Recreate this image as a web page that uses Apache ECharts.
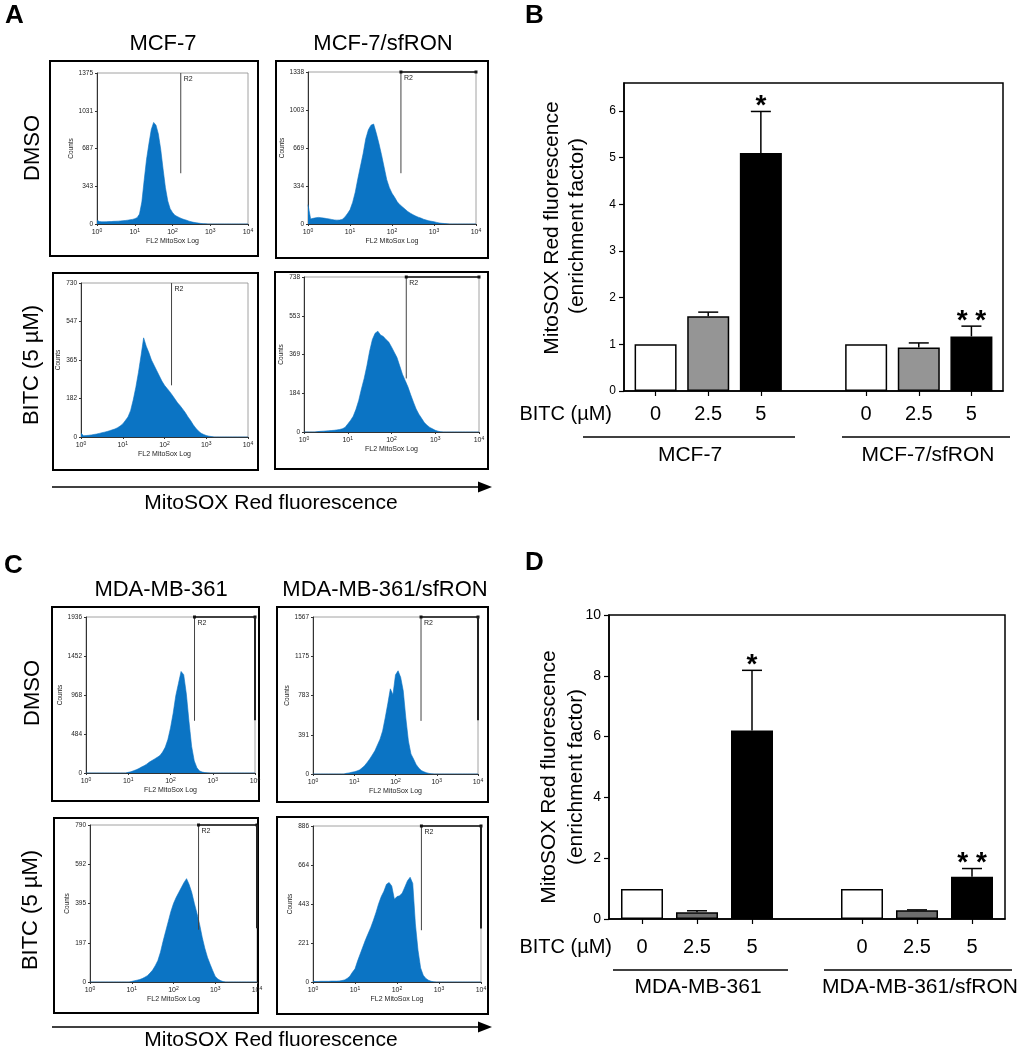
<!DOCTYPE html>
<html><head><meta charset="utf-8">
<script src="https://cdn.jsdelivr.net/npm/echarts@6/dist/echarts.min.js"></script>
<style>html,body{margin:0;padding:0;background:#fff}#c{width:1019px;height:1050px}</style>
</head><body><div id="c"></div>
<script>
// ---------------- DATA ----------------
// Flow-cytometry histograms: counts per channel, 16 channels per decade (10^0 .. 10^4)
const decadeLabels = ['0','1','2','3','4'];
const histTitles = ['MCF-7','MCF-7/sfRON','MDA-MB-361','MDA-MB-361/sfRON'];
const rowLabels = ['DMSO','BITC (5 µM)'];
const histMax = [1375,1338,730,738,1936,1567,790,886];
const histYTicks = [
  ['0','343','687','1031','1375'],
  ['0','334','669','1003','1338'],
  ['0','182','365','547','730'],
  ['0','184','369','553','738'],
  ['0','484','968','1452','1936'],
  ['0','391','783','1175','1567'],
  ['0','197','395','592','790'],
  ['0','221','443','664','886']
];
const histMCF7_DMSO = [35,22,20,20,21,22,22,24,25,26,28,30,32,35,38,42,48,58,90,200,400,590,730,860,925,900,820,680,500,330,210,140,105,80,68,58,48,40,34,26,20,15,12,8,5,3,2,0,0,0,0,0,0,0,0,0,0,0,0,0,0,0,0,0,0];
const histSfRON_DMSO = [170,45,50,55,58,55,52,48,45,40,36,34,35,40,60,90,125,190,280,400,510,620,750,830,870,880,800,710,610,500,390,320,270,235,195,170,150,130,110,95,82,70,60,52,42,35,28,24,20,14,9,6,4,2,0,0,0,0,0,0,0,0,0,0,0];
const histMCF7_BITC = [18,6,7,8,10,12,14,17,20,23,26,30,34,38,44,52,62,78,95,125,175,235,305,385,470,430,400,365,340,315,290,265,245,230,215,198,180,162,148,132,115,95,78,58,42,28,18,12,7,4,2,0,0,0,0,0,0,0,0,0,0,0,0,0,0];
const histSfRON_BITC = [0,0,0,0,0,2,3,4,5,6,7,8,10,12,15,22,38,55,75,108,150,205,255,315,385,440,470,480,462,455,440,428,405,380,355,315,275,245,215,178,143,110,85,65,45,32,22,15,8,4,1,0,0,0,0,0,0,0,0,0,0,0,0,0,0];
const histMDA_DMSO = [0,0,0,0,0,0,0,0,0,0,0,0,0,0,0,0,8,15,28,40,55,74,90,110,135,155,175,195,217,260,320,415,560,740,960,1110,1260,1220,980,640,330,150,65,25,12,5,2,0,0,0,0,0,0,0,0,0,0,0,0,0,0,0,0,0,0];
const histMDAsf_DMSO = [0,0,0,0,0,0,0,0,0,0,0,0,0,7,11,17,22,30,40,60,83,115,150,190,232,290,348,430,560,700,850,790,990,1030,965,830,560,330,200,149,95,60,36,22,13,6,2,0,0,0,0,0,0,0,0,0,0,0,0,0,0,0,0,0,0];
const histMDA_BITC = [0,0,0,0,0,0,0,0,0,0,0,0,0,0,0,0,3,6,9,12,17,24,32,45,60,82,108,150,205,255,305,355,395,425,450,475,500,520,490,450,395,345,290,225,170,125,90,58,28,15,7,2,0,0,0,0,0,0,0,0,0,0,0,0,0];
const histMDAsf_BITC = [4,3,3,4,4,4,4,5,5,5,6,8,12,20,32,55,75,120,160,200,240,275,310,350,395,445,485,515,555,565,545,470,485,490,505,540,575,595,560,330,180,80,38,20,10,4,1,0,0,0,0,0,0,0,0,0,0,0,0,0,0,0,0,0,0];
const histData = [histMCF7_DMSO, histSfRON_DMSO, histMCF7_BITC, histSfRON_BITC, histMDA_DMSO, histMDAsf_DMSO, histMDA_BITC, histMDAsf_BITC];
// R2 gate: channel, lower end (counts), top bar shown, right-end marker lower end (counts, 0 = none)
const gateChannel = [35.5, 35.4, 34.7, 37.4, 41.1, 41.9, 41.6, 41.3];
const gateLow = [462, 447, 245, 255, 648, 530, 263, 294];
const gateTopBar = [false, true, false, true, true, true, true, true];
const gateRightLow = [0, 0, 0, 0, 655, 536, 271, 304];

// Bar charts
const doses = ['0','2.5','5'];
const groupsB = ['MCF-7','MCF-7/sfRON'];
const meanB = [[1.0,1.6,5.1],[1.0,0.93,1.17]];
const errTopB = [[1.0,1.69,5.99],[1.0,1.03,1.39]];
const starsB = [['','','*'],['','','* *']];
const yTicksB = [0,1,2,3,4,5,6];
const groupsD = ['MDA-MB-361','MDA-MB-361/sfRON'];
const meanD = [[0.99,0.22,6.2],[0.99,0.285,1.39]];
const errTopD = [[0.99,0.27,8.18],[0.99,0.3,1.66]];
const starsD = [['','','*'],['','','* *']];
const yTicksD = [0,2,4,6,8,10];

// ---------------- LAYOUT / STYLE ----------------
const FONT = "'Liberation Sans', Arial, sans-serif";
const NARROW = "'Liberation Sans Narrow','Liberation Sans', Arial, sans-serif";
const BLUE = '#0b74c4';
const histGrids = [
  {left:97, top:73, width:151, height:151},
  {left:308, top:72, width:168, height:152},
  {left:81, top:283, width:167, height:154},
  {left:304, top:277, width:175, height:155},
  {left:86, top:617, width:169, height:156},
  {left:313, top:617, width:165, height:157},
  {left:90, top:825, width:167, height:157},
  {left:313, top:826, width:168, height:156}
];
const boxes = [[50,61,208,195],[276,61,212,197],[53,273,205,197],[275,272,213,197],
               [52,607,207,194],[277,607,211,195],[54,818,204,195],[277,817,211,197]];

const grids = [], xAxes = [], yAxes = [], series = [];
histGrids.forEach((g, i) => {
  const M = histMax[i];
  grids.push(Object.assign({show:true, borderColor:'#8a8a8a', borderWidth:0.8, containLabel:false}, g));
  xAxes.push({type:'value', gridIndex:i, min:0, max:64, interval:16,
    axisLine:{show:true, onZero:false, lineStyle:{color:'#333', width:1}},
    axisTick:{show:true, length:2, lineStyle:{color:'#333'}},
    splitLine:{show:false},
    axisLabel:{margin:4, formatter: v => '{b|10}{s|' + decadeLabels[Math.round(v/16)] + '}',
      rich:{b:{fontSize:7, fontFamily:NARROW, color:'#222'}, s:{fontSize:5, fontFamily:NARROW, color:'#222', padding:[0,0,4,0]}}},
    name:'FL2 MitoSox Log', nameLocation:'middle', nameGap:14,
    nameTextStyle:{fontSize:7, fontFamily:NARROW, color:'#222'}});
  yAxes.push({type:'value', gridIndex:i, min:0, max:M, interval:M/4,
    axisLine:{show:true, onZero:false, lineStyle:{color:'#333', width:1}},
    axisTick:{show:true, length:2, lineStyle:{color:'#333'}},
    splitLine:{show:false},
    axisLabel:{margin:4, fontSize:6.5, fontFamily:NARROW, color:'#222',
      formatter: v => histYTicks[i][Math.round(v/(M/4))]},
    name:'Counts', nameLocation:'middle', nameGap:19,
    nameTextStyle:{fontSize:6.5, fontFamily:NARROW, color:'#222'}});
  series.push({type:'line', xAxisIndex:i, yAxisIndex:i, symbol:'none', silent:true,
    lineStyle:{color:BLUE, width:0.6}, areaStyle:{color:BLUE, opacity:1},
    data: histData[i].map((c,k) => [k,c]), z:2});
  series.push({type:'custom', xAxisIndex:i, yAxisIndex:i, silent:true, z:5,
    data:[[gateChannel[i], gateLow[i]]],
    renderItem:(params, api) => {
      const gx = api.value(0), gl = api.value(1);
      const top = api.coord([gx, M]), low = api.coord([gx, gl]);
      const ch = [{type:'line', shape:{x1:top[0], y1:top[1], x2:low[0], y2:low[1]}, style:{stroke:'#444', lineWidth:1}},
        {type:'text', x:top[0]+3, y:top[1]+3, style:{text:'R2', fontSize:7, fontFamily:NARROW, fill:'#222', align:'left', verticalAlign:'top', textAlign:'left', textVerticalAlign:'top'}}];
      if (gateTopBar[i]) {
        const r = api.coord([64, M]);
        ch.push({type:'line', shape:{x1:top[0], y1:top[1], x2:r[0], y2:r[1]}, style:{stroke:'#111', lineWidth:1.4}});
        ch.push({type:'rect', shape:{x:top[0]-1.5, y:top[1]-1.5, width:3, height:3}, style:{fill:'#111'}});
        ch.push({type:'rect', shape:{x:r[0]-1.5, y:r[1]-1.5, width:3, height:3}, style:{fill:'#111'}});
        if (gateRightLow[i] > 0) {
          const rl = api.coord([64, gateRightLow[i]]);
          ch.push({type:'line', shape:{x1:r[0], y1:r[1], x2:rl[0], y2:rl[1]}, style:{stroke:'#222', lineWidth:2}});
        }
      }
      return {type:'group', children:ch};
    }});
});

// bar charts
const barGrids = [{left:624, top:83, width:379, height:308}, {left:609, top:615, width:396, height:304}];
const slotPos = [0,1,2,4,5,6];
const barFill = [['#ffffff','#959595','#000000'], ['#ffffff','#6e6e6e','#000000']];
const barSets = [
  {mean:meanB, err:errTopB, stars:starsB, yMax:6.6, yInt:1, ticks:yTicksB, fs:12, lm:13},
  {mean:meanD, err:errTopD, stars:starsD, yMax:10, yInt:2, ticks:yTicksD, fs:14, lm:18}
];
barSets.forEach((bs, j) => {
  const gi = 8 + j;
  grids.push(Object.assign({show:true, borderColor:'#000', borderWidth:1.5}, barGrids[j]));
  xAxes.push({type:'value', gridIndex:gi, min:-0.6, max:6.6,
    axisLine:{show:true, onZero:false, lineStyle:{color:'#000', width:1.5}},
    axisTick:{show:true, length:5, customValues:slotPos, lineStyle:{color:'#000', width:1.2}},
    splitLine:{show:false},
    axisLabel:{margin:bs.lm, fontSize:20, fontFamily:FONT, color:'#000', customValues:slotPos,
      formatter: v => { const k = slotPos.indexOf(Math.round(v)); return k < 0 ? '' : doses[k % 3]; }}});
  yAxes.push({type:'value', gridIndex:gi, min:0, max:bs.yMax, interval:bs.yInt,
    axisLine:{show:true, onZero:false, lineStyle:{color:'#000', width:1.5}},
    axisTick:{show:true, length:5, customValues:bs.ticks, lineStyle:{color:'#000', width:1.2}},
    splitLine:{show:false},
    axisLabel:{margin:8, fontSize:bs.fs, fontFamily:FONT, color:'#000', customValues:bs.ticks,
      formatter: v => (bs.ticks.indexOf(v) >= 0 ? String(v) : '')}});
  const bars = [], errs = [], stars = [];
  for (let g = 0; g < 2; g++) for (let k = 0; k < 3; k++) {
    const x = g * 4 + k;
    bars.push({value:[x, bs.mean[g][k]], itemStyle:{color:barFill[j][k], borderColor:'#000', borderWidth:1.5}});
    errs.push([x, bs.mean[g][k], bs.err[g][k]]);
    stars.push(bs.stars[g][k]);
  }
  series.push({type:'bar', xAxisIndex:gi, yAxisIndex:gi, barWidth:42, silent:true, data:bars, z:2});
  series.push({type:'custom', xAxisIndex:gi, yAxisIndex:gi, silent:true, z:4, data:errs,
    renderItem:(params, api) => {
      const x = api.value(0), m = api.value(1), t = api.value(2);
      const p0 = api.coord([x, m]), p1 = api.coord([x, t]);
      const ch = [];
      if (t > m + 0.005) {
        ch.push({type:'line', shape:{x1:p0[0], y1:p0[1], x2:p1[0], y2:p1[1]}, style:{stroke:'#000', lineWidth:1.5}});
        ch.push({type:'line', shape:{x1:p1[0]-10, y1:p1[1], x2:p1[0]+10, y2:p1[1]}, style:{stroke:'#000', lineWidth:1.5}});
      }
      const s = stars[params.dataIndex];
      if (s) ch.push({type:'text', x:p1[0], y:p1[1]+9, style:{text:s, fontSize:28, fontWeight:'bold', fontFamily:FONT, fill:'#000', align:'center', verticalAlign:'bottom', textAlign:'center', textVerticalAlign:'bottom'}});
      return {type:'group', children:ch};
    }});
});

// ---------------- GRAPHIC (labels, frames, arrows) ----------------
const gr = [];
function txt(x, y, s, size, opts) {
  gr.push(Object.assign({type:'text', x:x, y:y, style:Object.assign({text:s, fontSize:size, fontFamily:FONT, fill:'#000', align:'center', verticalAlign:'middle'}, (opts && opts.style) || {})}, (opts && opts.el) || {}));
}
boxes.forEach(b => gr.push({type:'rect', shape:{x:b[0], y:b[1], width:b[2], height:b[3]}, style:{fill:'none', stroke:'#000', lineWidth:2}}));
// panel letters
txt(5, 16, 'A', 26, {style:{fontWeight:'bold', align:'left'}});
txt(525, 16, 'B', 26, {style:{fontWeight:'bold', align:'left'}});
txt(4, 566, 'C', 26, {style:{fontWeight:'bold', align:'left'}});
txt(525, 563, 'D', 26, {style:{fontWeight:'bold', align:'left'}});
// column titles
txt(163, 44, histTitles[0], 22);
txt(383, 44, histTitles[1], 22);
txt(161, 590, histTitles[2], 22);
txt(385, 590, histTitles[3], 22);
// row labels
const rot = {rotation:Math.PI/2};
txt(33, 148, rowLabels[0], 22, {el:rot});
txt(32, 365, rowLabels[1], 22, {el:rot});
txt(33, 693, rowLabels[0], 22, {el:rot});
txt(31, 910, rowLabels[1], 22, {el:rot});
// arrows
[[487, 503], [1027, 1040]].forEach(a => {
  gr.push({type:'line', shape:{x1:52, y1:a[0], x2:482, y2:a[0]}, style:{stroke:'#000', lineWidth:1.5}});
  gr.push({type:'polygon', shape:{points:[[478,a[0]-5.5],[492,a[0]],[478,a[0]+5.5]]}, style:{fill:'#000'}});
  txt(271, a[1], 'MitoSOX Red fluorescence', 21);
});
// bar chart y titles
txt(552, 228, 'MitoSOX Red fluorescence', 21, {el:{rotation:Math.PI/2}});
txt(577, 226, '(enrichment factor)', 21, {el:{rotation:Math.PI/2}});
txt(549, 777, 'MitoSOX Red fluorescence', 21, {el:{rotation:Math.PI/2}});
txt(576, 777, '(enrichment factor)', 21, {el:{rotation:Math.PI/2}});
// BITC labels & group lines
txt(612, 414, 'BITC (µM)', 20, {style:{align:'right'}});
txt(612, 947, 'BITC (µM)', 20, {style:{align:'right'}});
[[583,795,437],[842,1010,437],[613,788,970],[824,1012,970]].forEach(l =>
  gr.push({type:'line', shape:{x1:l[0], y1:l[2], x2:l[1], y2:l[2]}, style:{stroke:'#000', lineWidth:1.3}}));
txt(690, 455, groupsB[0], 21);
txt(928, 455, groupsB[1], 21);
txt(698, 987, groupsD[0], 21);
txt(920, 987, groupsD[1], 21);

const chart = echarts.init(document.getElementById('c'), null, {renderer:'canvas', width:1019, height:1050});
chart.setOption({
  animation:false, backgroundColor:'#ffffff',
  textStyle:{fontFamily:FONT},
  grid:grids, xAxis:xAxes, yAxis:yAxes, series:series, graphic:gr
});
</script></body></html>
